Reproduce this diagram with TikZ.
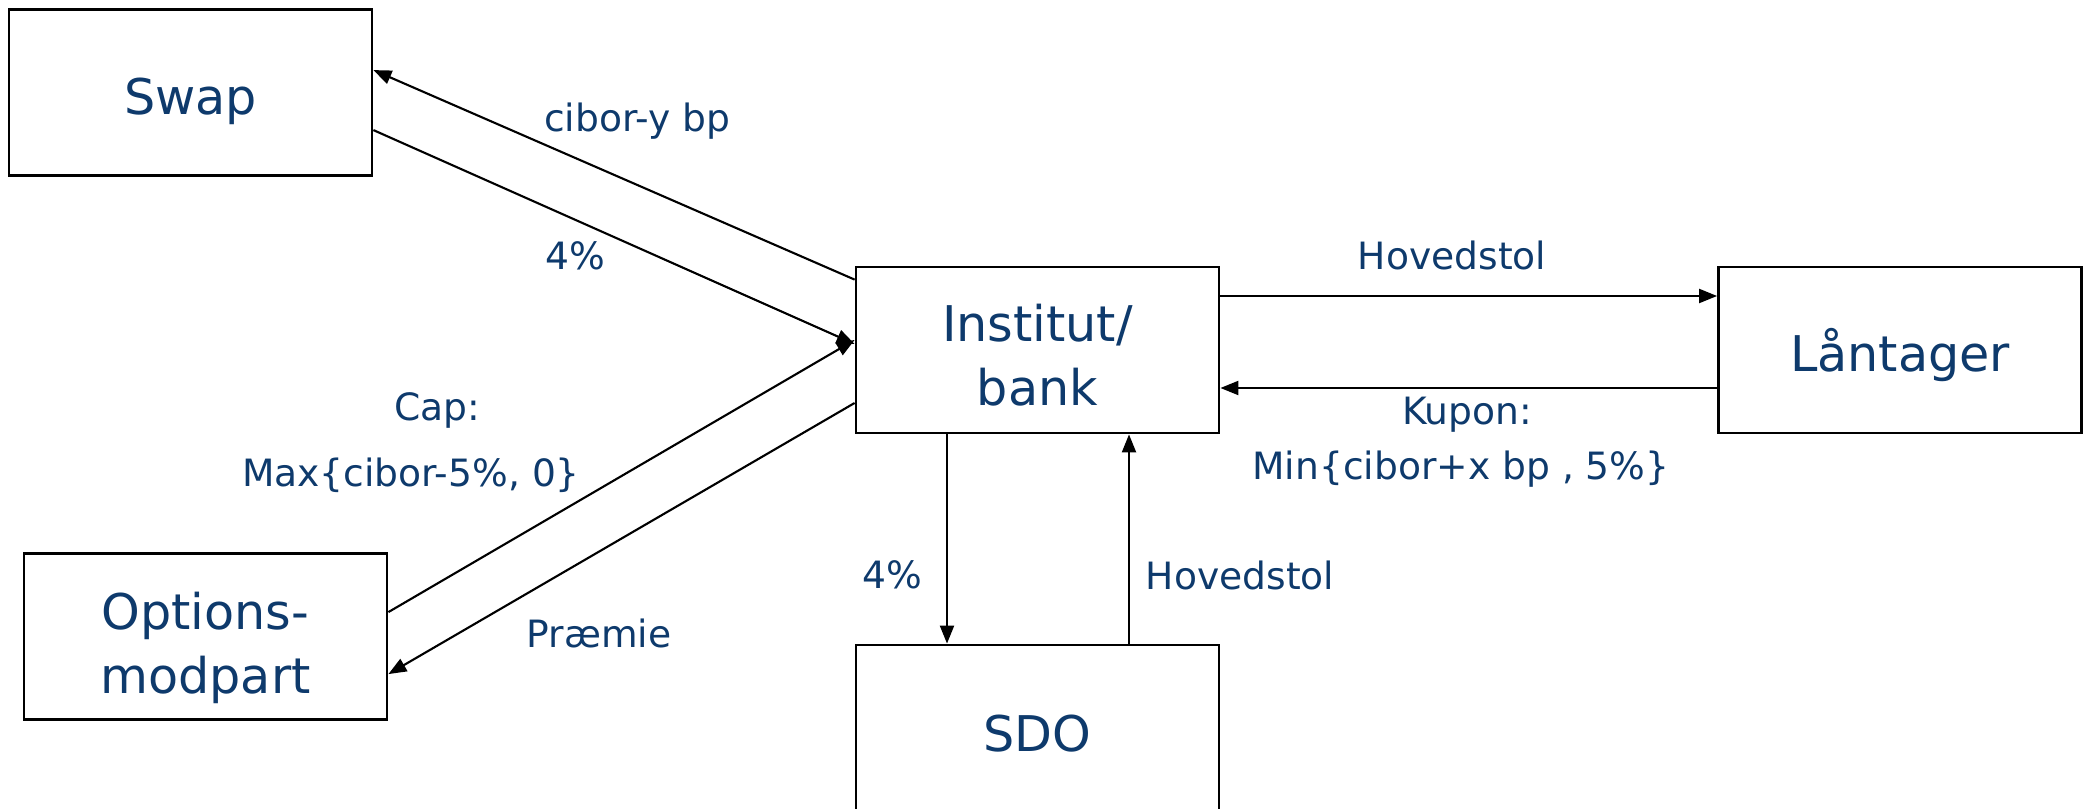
\documentclass[tikz,border=0pt]{standalone}
\usepackage{fontspec}
\setmainfont{DejaVu Sans}
\usepackage{xcolor}
\usetikzlibrary{arrows.meta,positioning,calc}
\definecolor{navy}{HTML}{0E3A6C}
\definecolor{ink}{HTML}{000000}
\tikzset{
  party/.style={draw=ink,fill=white,line width=0.8pt,minimum width=3.63cm,
                minimum height=1.66cm,align=center,inner sep=2pt,text depth=0pt,
                text=navy,font=\fontsize{14}{18.3}\selectfont},
  flow/.style={-{Triangle[length=1.8mm,width=1.4mm]},line width=0.6pt,
               draw=ink},
  amount/.style={text=navy,font=\fontsize{10.7}{13}\selectfont,inner sep=1pt}
}
\begin{document}
\begin{tikzpicture}[x=1cm,y=1cm]
    \path[use as bounding box] (0,0) rectangle (20.90,-8.09);

    \node[party,text height=12.8pt] (swap) at (1.905,-0.925) {Swap};
    \node[party,text height=31.5pt] (inst) at (10.375,-3.50) {Institut/\\bank};
    \node[party,text height=12.1pt] (laan) at (19.00,-3.50) {Låntager};
    \node[party,text height=32.4pt] (opt) at (2.055,-6.365) {Options-\\modpart};
    \node[party,text height=13.2pt] (sdo) at (10.375,-7.28) {SDO};

    \draw[flow] ([yshift=-0.14cm]inst.north west) -- ([yshift=-0.62cm]swap.north east);
    \draw[flow] ([yshift=-1.22cm]swap.north east) -- ([yshift=0.06cm]inst.west);
    \draw[flow] ([yshift=-0.60cm]opt.north east) -- ([yshift=0.10cm]inst.west);
    \draw[flow] ([yshift=-0.53cm]inst.west) -- ([yshift=-1.22cm]opt.north east);
    \draw[flow] ([yshift=0.54cm]inst.east) -- ([yshift=0.54cm]laan.west);
    \draw[flow] ([yshift=-0.38cm]laan.west) -- ([yshift=-0.38cm]inst.east);
    \draw[flow] ([xshift=-0.905cm]inst.south) -- ([xshift=-0.905cm]sdo.north);
    \draw[flow] ([xshift=0.915cm]sdo.north) -- ([xshift=0.915cm]inst.south);

    \node[amount] (swapfloat) at (6.37,-1.21) {cibor-y bp};
    \node[amount] (swapfix) at (5.75,-2.56) {4\%};
    \node[amount] (caphead) at (4.37,-4.10) {Cap:};
    \node[amount] (capfn) at (4.11,-4.75) {Max\{cibor-5\%, 0\}};
    \node[amount] (premium) at (5.99,-6.33) {Præmie};
    \node[amount] (loanout) at (14.52,-2.55) {Hovedstol};
    \node[amount] (kuphead) at (14.67,-4.15) {Kupon:};
    \node[amount] (kupfn) at (14.61,-4.69) {Min\{cibor+x bp , 5\%\}};
    \node[amount] (sdofix) at (8.92,-5.75) {4\%};
    \node[amount] (sdoin) at (12.40,-5.75) {Hovedstol};
\end{tikzpicture}
\end{document}
